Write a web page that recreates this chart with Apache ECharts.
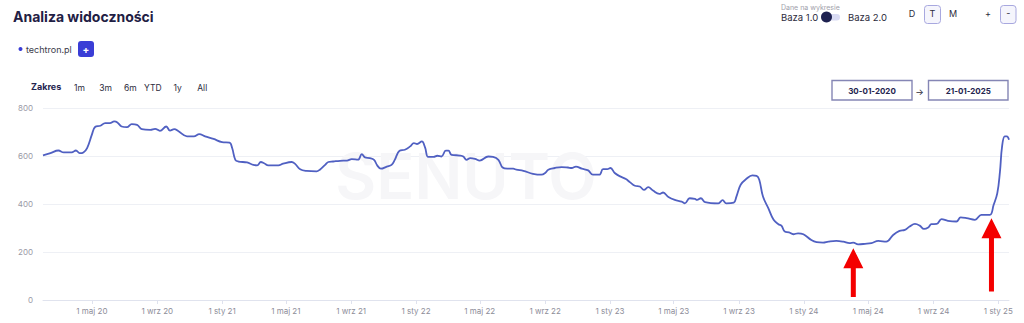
<!DOCTYPE html>
<html><head><meta charset="utf-8">
<script src="https://cdn.jsdelivr.net/npm/echarts@6/dist/echarts.min.js"></script>
<style>html,body{margin:0;padding:0;background:#fff}#c{width:1024px;height:323px}</style>
</head><body><div id="c"></div>
<script>
const dates = [
'2020-01-30','2020-02-13','2020-02-28','2020-03-09','2020-03-24','2020-04-01','2020-04-08','2020-04-15','2020-04-22','2020-05-01','2020-05-07','2020-05-17','2020-05-26','2020-06-04','2020-06-12','2020-06-18','2020-06-26','2020-07-06','2020-07-15','2020-07-25','2020-08-03','2020-08-19','2020-08-28','2020-09-06','2020-09-18','2020-09-25','2020-10-03','2020-10-11','2020-10-27','2020-11-09','2020-11-19','2020-11-30','2020-12-16',
'2021-01-01','2021-01-15','2021-01-20','2021-01-26','2021-02-01','2021-02-17','2021-03-01','2021-03-08','2021-03-15','2021-03-21','2021-03-29','2021-04-17','2021-04-26','2021-05-12','2021-05-18','2021-05-28','2021-06-09','2021-06-28','2021-07-04','2021-07-14','2021-07-20','2021-07-29','2021-08-11','2021-08-24','2021-09-02','2021-09-14','2021-09-21','2021-09-27','2021-10-06','2021-10-14','2021-10-20','2021-10-27','2021-11-07','2021-11-16','2021-11-22','2021-12-01','2021-12-11','2021-12-21','2021-12-28',
'2022-01-03','2022-01-12','2022-01-18','2022-01-24','2022-02-03','2022-02-10','2022-02-18','2022-02-26','2022-03-03','2022-03-09','2022-03-25','2022-03-31','2022-04-06','2022-04-13','2022-04-22','2022-05-01','2022-05-17','2022-05-26','2022-06-05','2022-06-13','2022-06-22','2022-07-03','2022-07-09','2022-07-22','2022-08-09','2022-08-25','2022-09-01','2022-09-07','2022-09-19','2022-10-02','2022-10-14','2022-10-21','2022-10-29','2022-11-09','2022-11-21','2022-11-30','2022-12-12','2022-12-19','2022-12-27',
'2023-01-02','2023-01-10','2023-01-20','2023-01-31','2023-02-08','2023-02-17','2023-02-26','2023-03-06','2023-03-14','2023-03-23','2023-04-04','2023-04-11','2023-04-21','2023-05-03','2023-05-16','2023-05-22','2023-05-31','2023-06-10','2023-06-14','2023-06-21','2023-06-29','2023-07-24','2023-08-01','2023-08-08','2023-08-22','2023-08-27','2023-09-04','2023-09-15','2023-09-26','2023-10-04','2023-10-09','2023-10-16','2023-10-26','2023-11-05','2023-11-14','2023-11-20','2023-11-26','2023-12-04','2023-12-12','2023-12-21','2023-12-31',
'2024-01-15','2024-01-25','2024-02-06','2024-02-16','2024-03-02','2024-03-15','2024-03-27','2024-04-03','2024-04-12','2024-04-25','2024-05-07','2024-05-20','2024-06-04','2024-06-17','2024-06-29','2024-07-09','2024-07-18','2024-07-28','2024-08-06','2024-08-14','2024-08-22','2024-08-28','2024-09-07','2024-09-16','2024-09-28','2024-10-14','2024-10-22','2024-11-02','2024-11-18','2024-11-30','2024-12-16','2024-12-23','2024-12-30',
'2025-01-04','2025-01-08','2025-01-13','2025-01-17','2025-01-21'];
const values = [
603,612,623,615,615,623,612,615,633,689,721,726,737,737,744,740,723,720,733,730,712,709,713,705,723,706,712,703,682,682,691,682,671,
658,656,633,584,577,573,563,561,575,570,561,561,568,575,568,545,538,536,543,563,575,577,580,581,587,585,608,594,591,584,561,547,556,563,584,622,626,640,654,
650,661,636,596,596,601,598,622,622,605,602,598,584,591,588,581,598,596,584,552,547,547,543,538,526,522,529,543,550,554,552,550,556,547,540,522,522,545,545,
550,529,515,504,490,476,473,459,470,456,442,448,429,417,410,403,424,421,417,424,408,403,416,403,406,431,480,505,519,517,501,431,383,334,316,309,285,282,274,278,274,
250,241,239,243,246,243,237,239,232,234,237,246,243,271,288,292,306,317,310,296,302,316,317,337,330,327,344,341,334,355,355,396,445,
535,640,682,682,668];
const rangeStart = '2020-01-30';
const rangeEnd = '2025-01-21';
const xTickDates = ['2020-05-01','2020-09-01','2021-01-01','2021-05-01','2021-09-01','2022-01-01','2022-05-01','2022-09-01','2023-01-01','2023-05-01','2023-09-01','2024-01-01','2024-05-01','2024-09-01','2025-01-01'];
const monthNames = ['sty','lut','mar','kwi','maj','cze','lip','sie','wrz','paź','lis','gru'];
const yMin = 0, yMax = 800, yStep = 200;
const rangeButtons = ['1m','3m','6m','YTD','1y','All'];
const dateFromLabel = '30-01-2020';
const dateToLabel = '21-01-2025';
const arrowDates = ['2024-04-03','2024-12-19'];
const arrowTips = [216, 341];
const arrowTails = [12, 35];

const FONT = 'Inter, "Noto Sans", sans-serif';
const ts = d => { const p = d.split('-').map(Number); return Date.UTC(p[0], p[1] - 1, p[2]); };
const chart = echarts.init(document.getElementById('c'), null, {renderer: 'svg'});

chart.setOption({
  animation: false,
  backgroundColor: '#fff',
  grid: {left: 43, right: 15, top: 108, bottom: 23},
  xAxis: {
    type: 'value', min: ts(rangeStart), max: ts(rangeEnd), scale: true,
    axisLine: {lineStyle: {color: '#e0e3ee', width: 1}},
    axisTick: {show: true, customValues: xTickDates.map(ts), length: 4, lineStyle: {color: '#dfe2ee'}},
    axisLabel: {
      customValues: xTickDates.map(ts), color: '#8d8d99', fontSize: 8, margin: 7, fontFamily: FONT,
      formatter: v => { const d = new Date(v); return d.getUTCDate() + ' ' + monthNames[d.getUTCMonth()] + ' ' + String(d.getUTCFullYear()).slice(2); }
    },
    splitLine: {show: false}
  },
  yAxis: {
    type: 'value', min: yMin, max: yMax, interval: yStep,
    axisLine: {show: false}, axisTick: {show: false},
    axisLabel: {color: '#9a9aa6', fontSize: 8, margin: 10, fontFamily: FONT, padding: [0, 0, 6, 0]},
    splitLine: {lineStyle: {color: '#eef0f5', width: 1}}
  },
  series: [{
    type: 'line', data: dates.map((d, i) => [ts(d), values[i]]),
    showSymbol: false, smooth: 0.4, z: 5,
    lineStyle: {color: '#5060c2', width: 1.8}
  }]
});

function txt(id, text, x, y, font, fill, align, extra) {
  return Object.assign({type: 'text', id, z: 10, style: {text, x, y, font, fill, textAlign: align || 'left', textVerticalAlign: 'middle'}}, extra || {});
}
const ui = [];
ui.push(txt('wm', 'SENUTO', 466, 176, '600 63px ' + FONT, '#f6f6f8', 'center', {z: 1}));
ui.push(txt('title', 'Analiza widoczności', 13, 16, 'bold 14px ' + FONT, '#1f2044'));
ui.push({type: 'circle', id: 'dot', z: 10, shape: {cx: 20.5, cy: 49, r: 2}, style: {fill: '#3a3dd6'}});
ui.push(txt('site', 'techtron.pl', 26, 49, '9px ' + FONT, '#3b3b4a'));
ui.push({type: 'rect', id: 'plusbtn', z: 10, shape: {x: 78, y: 41, width: 16, height: 16, r: 3}, style: {fill: '#3a3dd6'}});
ui.push(txt('plustxt', '+', 86, 48.5, 'bold 10px ' + FONT, '#fff', 'center'));
ui.push(txt('zakres', 'Zakres', 31, 86.5, 'bold 9px ' + FONT, '#23244f'));
const rbX = [79.5, 105.5, 130.3, 152.8, 177.7, 202.2];
rangeButtons.forEach((b, i) => ui.push(txt('rb' + i, b, rbX[i], 87.5, '8.5px ' + FONT, '#2c2c3c', 'center')));
ui.push(txt('dane', 'Dane na wykresie', 781, 7.5, '7px ' + FONT, '#a0a0aa'));
ui.push(txt('b1', 'Baza 1.0', 781, 17, '9.5px ' + FONT, '#2c2c3c'));
ui.push({type: 'rect', id: 'track', z: 10, shape: {x: 822, y: 14, width: 18, height: 6.5, r: 3.25}, style: {fill: '#d9dbf3'}});
ui.push({type: 'circle', id: 'knob', z: 11, shape: {cx: 826.5, cy: 17, r: 5.5}, style: {fill: '#1e2150'}});
ui.push(txt('b2', 'Baza 2.0', 848, 17, '9.5px ' + FONT, '#2c2c3c'));
ui.push(txt('pD', 'D', 912, 13.5, '9px ' + FONT, '#2c2c3c', 'center'));
ui.push({type: 'rect', id: 'tbox', z: 10, shape: {x: 924.5, y: 5.5, width: 16, height: 18, r: 3}, style: {fill: '#f5f5fc', stroke: '#a8a8df', lineWidth: 1}});
ui.push(txt('pT', 'T', 932.5, 13.5, '9px ' + FONT, '#2c2c3c', 'center'));
ui.push(txt('pM', 'M', 953, 13.5, '9px ' + FONT, '#2c2c3c', 'center'));
ui.push(txt('zplus', '+', 988, 13.5, '9px ' + FONT, '#2c2c3c', 'center'));
ui.push({type: 'rect', id: 'mbox', z: 10, shape: {x: 1000.5, y: 5.5, width: 15.5, height: 18, r: 3}, style: {fill: '#f5f5fc', stroke: '#a8a8df', lineWidth: 1}});
ui.push(txt('zminus', '-', 1008.2, 12.5, '9px ' + FONT, '#2c2c3c', 'center'));
ui.push({type: 'rect', id: 'd1', z: 10, shape: {x: 832, y: 80.5, width: 80, height: 19.5}, style: {fill: '#fff', stroke: '#8586b5', lineWidth: 1.4}});
ui.push(txt('d1t', dateFromLabel, 872, 90.5, 'bold 8px ' + FONT, '#23244f', 'center'));
ui.push(txt('arr', '→', 919.5, 91.5, '9px ' + FONT, '#2c2c3c', 'center'));
ui.push({type: 'rect', id: 'd2', z: 10, shape: {x: 928.5, y: 80.5, width: 79.5, height: 19.5}, style: {fill: '#fff', stroke: '#8586b5', lineWidth: 1.4}});
ui.push(txt('d2t', dateToLabel, 968.3, 90.5, 'bold 8px ' + FONT, '#23244f', 'center'));

arrowDates.forEach((d, i) => {
  const tip = chart.convertToPixel({gridIndex: 0}, [ts(d), arrowTips[i]]);
  const tail = chart.convertToPixel({gridIndex: 0}, [ts(d), arrowTails[i]]);
  const x = tip[0], ty = tip[1], by = tail[1], hh = 20, hw = 10, sw = 2.5;
  ui.push({type: 'polygon', id: 'arrow' + i, z: 100, shape: {points: [
    [x, ty], [x + hw, ty + hh], [x + sw, ty + hh], [x + sw, by], [x - sw, by], [x - sw, ty + hh], [x - hw, ty + hh]
  ]}, style: {fill: '#f40000'}});
});
chart.setOption({graphic: {elements: ui}});
</script>
</body></html>
